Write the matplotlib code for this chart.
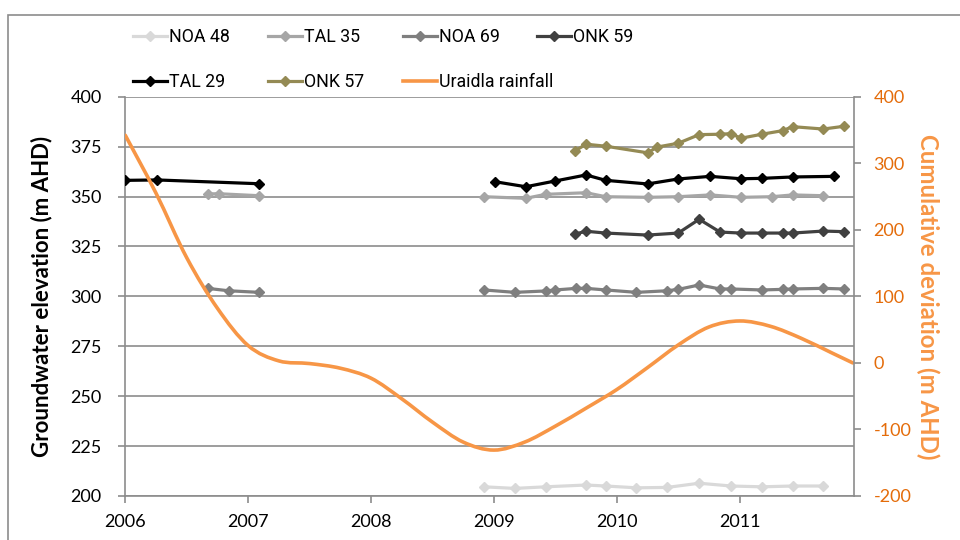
import matplotlib
matplotlib.use('Agg')
import matplotlib.pyplot as plt
import numpy as np
from matplotlib.path import Path
from matplotlib.patches import PathPatch, Rectangle
from matplotlib.lines import Line2D
from matplotlib import font_manager

plt.rcParams['font.family'] = ['Lato', 'DejaVu Sans']

# ---------------- data (decimal years, m AHD) ----------------
noa48_x = [2008.92, 2009.17, 2009.42, 2009.75, 2009.91, 2010.16, 2010.41, 2010.67, 2010.93, 2011.18, 2011.43, 2011.68]
noa48_y = [204.6, 203.8, 204.6, 205.5, 205.0, 204.1, 204.3, 206.4, 205.0, 204.6, 205.0, 205.0]

tal35_x = [2006.67, 2006.76, 2007.09, np.nan, 2008.92, 2009.26, 2009.42, 2009.75, 2009.91, 2010.25, 2010.50,
           2010.76, 2011.01, 2011.26, 2011.43, 2011.68]
tal35_y = [351.3, 351.4, 350.4, np.nan, 349.9, 349.1, 351.1, 351.9, 349.9, 349.6, 349.9, 350.8, 349.6, 349.9, 350.8, 350.4]

noa69_x = [2006.67, 2006.84, 2007.09, np.nan, 2008.92, 2009.17, 2009.42, 2009.50, 2009.67, 2009.75, 2009.91,
           2010.16, 2010.41, 2010.50, 2010.67, 2010.84, 2010.93, 2011.18, 2011.35, 2011.43, 2011.68, 2011.85]
noa69_y = [304.0, 302.8, 302.0, np.nan, 303.2, 302.0, 302.7, 303.2, 304.0, 304.0, 303.2, 302.0, 302.8, 303.5,
           305.7, 303.7, 303.7, 303.2, 303.5, 303.7, 304.0, 303.7]

onk59_x = [2009.66, 2009.75, 2009.91, 2010.25, 2010.50, 2010.67, 2010.84, 2011.01, 2011.18, 2011.35, 2011.43, 2011.68, 2011.85]
onk59_y = [331.2, 332.6, 331.7, 330.7, 331.7, 338.6, 332.2, 331.7, 331.7, 331.7, 331.7, 332.7, 332.4]

tal29_x = [2006.00, 2006.26, 2007.09, np.nan, 2009.01, 2009.26, 2009.50, 2009.75, 2009.91, 2010.25, 2010.50,
           2010.76, 2011.01, 2011.18, 2011.43, 2011.77]
tal29_y = [358.1, 358.3, 356.4, np.nan, 357.4, 354.9, 357.8, 360.8, 358.1, 356.3, 358.8, 360.1, 358.9, 359.1, 359.8, 360.1]

onk57_x = [2009.66, 2009.75, 2009.91, 2010.25, 2010.33, 2010.50, 2010.67, 2010.84, 2010.93, 2011.01, 2011.18,
           2011.35, 2011.43, 2011.68, 2011.85]
onk57_y = [372.9, 376.2, 375.2, 371.9, 374.8, 376.7, 381.0, 381.2, 381.5, 379.2, 381.2, 383.0, 385.0, 383.8, 385.2]

rain_x = [2006.0, 2006.25, 2006.5, 2006.75, 2007.0, 2007.25, 2007.5, 2007.75, 2008.0, 2008.25, 2008.5, 2008.75,
          2009.0, 2009.25, 2009.5, 2009.75, 2010.0, 2010.25, 2010.5, 2010.75, 2011.0, 2011.25, 2011.5, 2011.75, 2011.92]
rain_y = [342, 255, 158, 82, 26, 3, -1, -8, -23, -54, -89, -119, -131, -119, -95, -68, -40, -7, 27, 54, 63, 55,
          37, 15, 0]

year_ticks = [2006, 2007, 2008, 2009, 2010, 2011]
left_ticks = [200, 225, 250, 275, 300, 325, 350, 375, 400]
right_ticks = [-200, -100, 0, 100, 200, 300, 400]

series = [
    ('NOA 48', noa48_x, noa48_y, '#d9d9d9'),
    ('TAL 35', tal35_x, tal35_y, '#a6a6a6'),
    ('NOA 69', noa69_x, noa69_y, '#7f7f7f'),
    ('ONK 59', onk59_x, onk59_y, '#404040'),
    ('TAL 29', tal29_x, tal29_y, '#000000'),
    ('ONK 57', onk57_x, onk57_y, '#948a54'),
]
RAIN_C = '#f79646'
GRID_C = '#8c8c8c'

# legend font: prefer a narrow face if installed
names_avail = {f.name for f in font_manager.fontManager.ttflist}
if 'Liberation Sans Narrow' in names_avail:
    leg_prop = {'family': ['Liberation Sans Narrow', 'DejaVu Sans'], 'size': 12.5}
else:
    leg_prop = {'family': ['Roboto', 'DejaVu Sans'], 'size': 12.8, 'stretch': 'condensed'}

# ---------------- figure ----------------
W, H = 960, 540
fig = plt.figure(figsize=(9.6, 5.4), dpi=100)
x0, x1, ytop, ybot = 125.3, 854, 96.7, 496
ax = fig.add_axes([x0 / W, 1 - ybot / H, (x1 - x0) / W, (ybot - ytop) / H])
ax2 = ax.twinx()

# chart border
fig.add_artist(Rectangle((8 / W, -0.1), 1.2, 1 - 15.5 / H + 0.1, transform=fig.transFigure,
                         fill=False, edgecolor='#8c8c8c', lw=1.2))

handles = {}
for name, xs, ys, c in series:
    ln, = ax.plot(xs, ys, color=c, lw=2.3, marker='D', ms=5.5, mfc=c, mec=c, label=name, zorder=3)
    handles[name] = ln

# rainfall smoothed line (Excel-style smoothing rendered as cubic Beziers through the points)
pts = np.column_stack([rain_x, rain_y]).astype(float)
P = np.vstack([pts[0], pts, pts[-1]])
verts = [pts[0]]
codes = [Path.MOVETO]
for i in range(1, len(P) - 2):
    p0, p1, p2, p3 = P[i - 1], P[i], P[i + 1], P[i + 2]
    verts += [p1 + (p2 - p0) / 6, p2 - (p3 - p1) / 6, p2]
    codes += [Path.CURVE4] * 3
ax2.add_patch(PathPatch(Path(verts, codes), fill=False, edgecolor=RAIN_C, lw=2.6, capstyle='round'))
handles['Uraidla rainfall'] = Line2D([], [], color=RAIN_C, lw=2.6)

# axes
ax.set_xlim(2006, 2011.93)
ax.set_ylim(200, 400)
ax2.set_ylim(-200, 400)
ax.set_xticks(year_ticks)
ax.set_xticklabels([str(t) for t in year_ticks])
ax.set_yticks(left_ticks)
ax2.set_yticks(right_ticks)
ax2.set_yticklabels([str(t) for t in right_ticks])
ax.yaxis.grid(True, color=GRID_C, lw=1.2)
ax.set_axisbelow(True)

for s in ['top', 'right']:
    ax.spines[s].set_visible(False)
for s in ['top', 'left', 'bottom']:
    ax2.spines[s].set_visible(False)
for s in ['left', 'bottom']:
    ax.spines[s].set_color(GRID_C)
    ax.spines[s].set_linewidth(1.2)
ax2.spines['right'].set_color(GRID_C)
ax2.spines['right'].set_linewidth(1.2)

ax.tick_params(axis='y', direction='out', length=5, width=1.2, color=GRID_C, labelsize=13, pad=12, labelcolor='black')
ax.tick_params(axis='x', direction='out', length=5, width=1.2, color=GRID_C, labelsize=13, pad=8, labelcolor='black')
ax2.tick_params(axis='y', direction='out', length=5, width=1.2, color=GRID_C, labelsize=13, pad=9, labelcolor='#e46c0a')

ax.set_ylabel('Groundwater elevation (m AHD)', fontsize=16, fontweight='bold', labelpad=13)
ax2.set_ylabel('Cumulative deviation (m AHD)', fontsize=17.3, fontweight='bold', color=RAIN_C,
               rotation=270, labelpad=20)

# legend: four columns, two rows
cols = [['NOA 48', 'TAL 29'], ['TAL 35', 'ONK 57'], ['NOA 69', 'Uraidla rainfall'], ['ONK 59']]
col_x = [133, 268, 403, 537]
for names, cx in zip(cols, col_x):
    fig.legend([handles[n] for n in names], names, loc='upper left', bbox_to_anchor=(cx / W, 1 - 28.5 / H),
               frameon=False, borderpad=0, borderaxespad=0, handlelength=1.9, handletextpad=0.15,
               labelspacing=1.5, prop=leg_prop)

fig.savefig('out.png', dpi=100)
